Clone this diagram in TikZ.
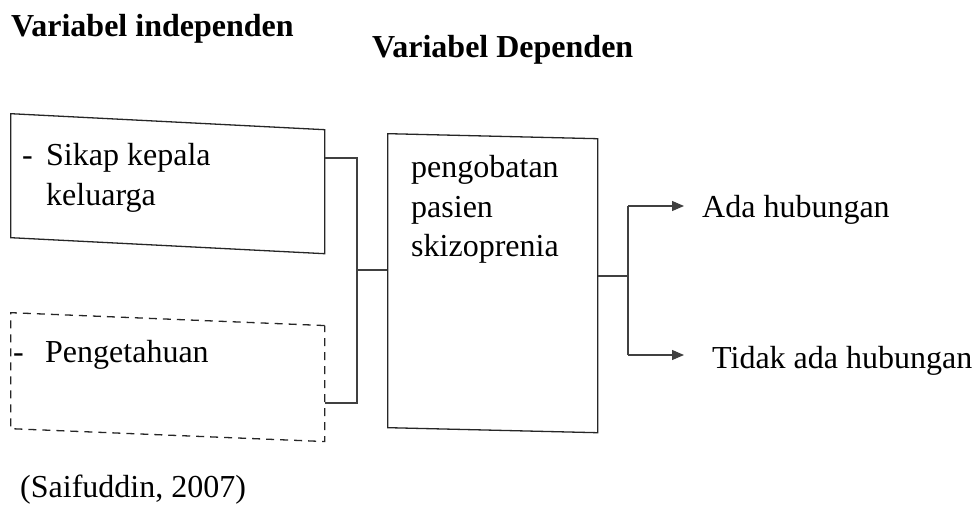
\documentclass[tikz,border=0pt]{standalone}
\usepackage{fontspec}
\setmainfont{Liberation Serif}
\usetikzlibrary{arrows.meta}
\begin{document}
\begin{tikzpicture}[x=1pt,y=-1pt,
  line join=miter,
  boxline/.style={draw=black!85, line width=1.3pt, inner sep=0pt, anchor=north west, transform shape},
  wire/.style={draw=black!75, line width=1.1pt},
  txt/.style={inner sep=0pt, anchor=base west, font=\fontsize{32}{38}\selectfont},
  head/.style={inner sep=0pt, anchor=base west, font=\fontsize{32}{38}\selectfont\bfseries},
  pointer/.style={wire, -{Triangle[length=12pt,width=10pt]}}]
\useasboundingbox (0,0) rectangle (975,508);

% headings
\node[head] (hInd) at (11,37) {Variabel independen};
\node[head] (hDep) at (372,58) {Variabel Dependen};

% independent variables (boxes sit slightly askew)
\begin{scope}[shift={(10,113)}, yslant=-0.051]
  \node[boxline, minimum width=314pt, minimum height=124pt] (sikap) at (0,0) {};
\end{scope}
\begin{scope}[shift={(10,312)}, yslant=-0.041]
  \node[boxline, dash pattern=on 8pt off 6pt, minimum width=314pt, minimum height=116pt] (tahu) at (0,0) {};
\end{scope}
\node[txt] (s0) at (22,165) {-};
\node[txt] (s1) at (46,165) {Sikap kepala};
\node[txt] (s2) at (46,205) {keluarga};
\node[txt] (t0) at (13,362) {-};
\node[txt] (t1) at (45,362) {Pengetahuan};

% dependent variable
\begin{scope}[shift={(387,133)}, yslant=-0.024]
  \node[boxline, minimum width=210pt, minimum height=294pt] (obat) at (0,0) {};
\end{scope}
\node[txt] (o1) at (411,178) {pengobatan};
\node[txt] (o2) at (411,217) {pasien};
\node[txt] (o3) at (411,256) {skizoprenia};

% outcomes
\node[txt] (ada) at (702,218) {Ada hubungan};
\node[txt] (tidak) at (712,368) {Tidak ada hubungan};

% bracket joining the independent variables
\coordinate (jTop) at (357,158);
\coordinate (jBot) at (357,403);
\coordinate (jMid) at (357,270);
\draw[wire] (sikap.east |- jTop) -- (jTop) -- (jBot) -- (tahu.east |- jBot);
\draw[wire] (jMid) -- (obat.west |- jMid);

% fork towards the outcomes
\coordinate (fMid) at (628,276);
\coordinate (fTop) at (628,206);
\coordinate (fBot) at (628,355);
\coordinate (aTip) at (684,206);
\coordinate (bTip) at (684,355);
\draw[wire] (obat.east |- fMid) -- (fMid);
\draw[wire] (fTop) -- (fBot);
\draw[pointer] (fTop) -- (aTip);
\draw[pointer] (fBot) -- (bTip);

% source
\node[txt] (src) at (20,497) {(Saifuddin, 2007)};
\end{tikzpicture}
\end{document}
